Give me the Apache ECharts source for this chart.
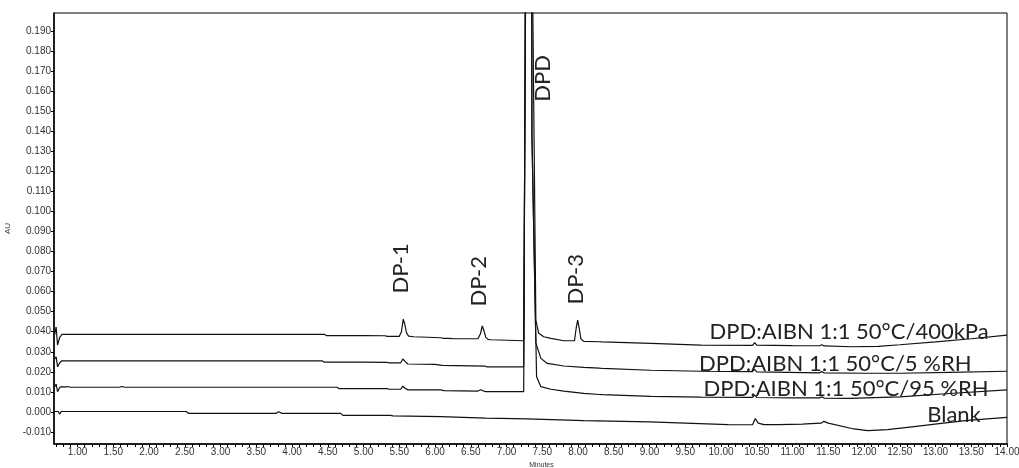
<!DOCTYPE html>
<html><head><meta charset="utf-8">
<script src="https://cdn.jsdelivr.net/npm/echarts@6/dist/echarts.min.js"></script>
<style>html,body{margin:0;padding:0;background:#fff}#c{width:1019px;height:468px}</style>
</head><body><div id="c"></div>
<script>
// ---- data (time in minutes, absorbance in AU) ----
const trace400kPa = [[0.68,0.0385],[0.70,0.0424],[0.72,0.0333],[0.75,0.0372],[0.78,0.0387],[4.45,0.0387],[4.48,0.0381],[4.96,0.0381],[4.98,0.0386],[5.00,0.0381],[5.30,0.0380],[5.33,0.0377],[5.50,0.0377],[5.53,0.0400],[5.555,0.0463],[5.575,0.0440],[5.60,0.0395],[5.63,0.0378],[5.70,0.0375],[6.08,0.0370],[6.12,0.0367],[6.20,0.0367],[6.22,0.0371],[6.24,0.0366],[6.60,0.0365],[6.635,0.0390],[6.66,0.0429],[6.68,0.0410],[6.71,0.0372],[6.74,0.0362],[6.78,0.0360],[6.80,0.0356],[7.24,0.0355],[7.28,0.30],[7.34,0.30],[7.41,0.0458],[7.45,0.0392],[7.52,0.0375],[7.62,0.0367],[7.80,0.0355],[7.95,0.0356],[7.975,0.0420],[7.995,0.0458],[8.015,0.0420],[8.04,0.0365],[8.08,0.0352],[8.30,0.0350],[8.32,0.0354],[8.34,0.0349],[9.02,0.0342],[9.72,0.0333],[10.44,0.0332],[10.47,0.0346],[10.50,0.0333],[11.0,0.0331],[11.38,0.0330],[11.41,0.0335],[11.44,0.0329],[11.82,0.0325],[12.2,0.0327],[12.5,0.0335],[13.0,0.0349],[13.5,0.0365],[14.0,0.0383]];
const trace5RH = [[0.68,0.0265],[0.70,0.0275],[0.72,0.0225],[0.75,0.0245],[0.78,0.0255],[4.42,0.0255],[4.45,0.0248],[5.00,0.0248],[5.33,0.0247],[5.36,0.0245],[5.52,0.0245],[5.55,0.0264],[5.58,0.0252],[5.62,0.0239],[6.00,0.0237],[6.10,0.0232],[6.70,0.0228],[6.73,0.0225],[6.75,0.0229],[6.77,0.0225],[7.24,0.0225],[7.26,0.176],[7.275,0.40],[7.345,0.40],[7.355,0.138],[7.41,0.0343],[7.48,0.0267],[7.57,0.0242],[7.80,0.0229],[8.08,0.0222],[8.30,0.0218],[8.32,0.0224],[8.34,0.0217],[9.02,0.0208],[9.72,0.0203],[10.44,0.0201],[10.47,0.0212],[10.50,0.0200],[11.38,0.0195],[11.41,0.0201],[11.44,0.0195],[12.0,0.0193],[12.5,0.0193],[13.2,0.0197],[14.0,0.0203]];
const trace95RH = [[0.68,0.0125],[0.70,0.0139],[0.72,0.0101],[0.75,0.0122],[0.78,0.0126],[0.82,0.0124],[0.86,0.0127],[0.90,0.0123],[1.58,0.0123],[1.62,0.0127],[1.66,0.0123],[4.63,0.0123],[4.66,0.0116],[4.96,0.0116],[4.98,0.0120],[5.00,0.0116],[5.33,0.0116],[5.36,0.0113],[5.52,0.0113],[5.55,0.0129],[5.58,0.0118],[5.62,0.0110],[6.08,0.0110],[6.12,0.0106],[6.60,0.0104],[6.64,0.0111],[6.68,0.0104],[6.71,0.0101],[6.74,0.0101],[6.75,0.0106],[6.77,0.0101],[7.24,0.0101],[7.26,0.176],[7.275,0.40],[7.345,0.40],[7.355,0.138],[7.42,0.0176],[7.48,0.0126],[7.62,0.0113],[7.80,0.0104],[8.08,0.0093],[8.30,0.0087],[8.32,0.0093],[8.34,0.0086],[9.02,0.0078],[9.72,0.0074],[10.44,0.0073],[10.47,0.0084],[10.50,0.0072],[11.0,0.0070],[11.38,0.0070],[11.41,0.0076],[11.44,0.0069],[11.8,0.0068],[12.5,0.0075],[13.2,0.0092],[14.0,0.0110]];
const traceBlank = [[0.68,0.0002],[0.73,0.0002],[0.75,-0.0012],[0.77,0.0002],[2.52,0.0002],[2.55,-0.0007],[3.78,-0.0007],[3.81,0.0001],[3.86,-0.0007],[4.68,-0.0007],[4.71,-0.0017],[5.38,-0.0017],[5.41,-0.0020],[6.08,-0.0023],[6.71,-0.0031],[7.29,-0.0035],[8.08,-0.0043],[9.0,-0.0050],[9.6,-0.0057],[10.1,-0.0063],[10.44,-0.0064],[10.48,-0.0033],[10.52,-0.0056],[10.6,-0.0063],[10.75,-0.0063],[10.77,-0.0055],[10.80,-0.0063],[11.14,-0.0061],[11.16,-0.0053],[11.19,-0.0060],[11.40,-0.0056],[11.44,-0.0047],[11.50,-0.0056],[11.86,-0.0085],[12.05,-0.0093],[12.33,-0.0088],[12.7,-0.0073],[13.08,-0.0057],[13.45,-0.0042],[14.0,-0.0027]];

const xTickLabels = [1.00,1.50,2.00,2.50,3.00,3.50,4.00,4.50,5.00,5.50,6.00,6.50,7.00,7.50,8.00,8.50,9.00,9.50,10.00,10.50,11.00,11.50,12.00,12.50,13.00,13.50,14.00];
const yTickLabels = [-0.010,0.000,0.010,0.020,0.030,0.040,0.050,0.060,0.070,0.080,0.090,0.100,0.110,0.120,0.130,0.140,0.150,0.160,0.170,0.180,0.190];

// trace names drawn at the right end (text, time, AU)
const traceNames = ['DPD:AIBN 1:1 50°C/400kPa','DPD:AIBN 1:1 50°C/5 %RH','DPD:AIBN 1:1 50°C/95 %RH','Blank'];
const traceNamePos = [[13.75,0.0398],[13.51,0.0240],[13.75,0.0114],[13.64,-0.0015]];
// peak labels (rotated)
const peakNames = ['DP-1','DP-2','DPD','DP-3'];
const peakPos = [[5.52,0.0716],[6.61,0.0652],[7.51,0.1664],[7.97,0.0662]];

// ---- chart ----
const xMinorTicks = [];
for (let i = 7; i <= 140; i++) xMinorTicks.push(i / 10);

const FONT = 'Lato, "Open Sans", sans-serif';
const markData = [];
traceNames.forEach((t, i) => markData.push({
  coord: traceNamePos[i],
  label: {show: true, formatter: t, position: 'left', distance: 0,
          fontFamily: FONT, fontSize: 22, color: '#222'}
}));
peakNames.forEach((t, i) => markData.push({
  coord: peakPos[i],
  label: {show: true, formatter: t, position: 'inside', rotate: 90,
          fontFamily: FONT, fontSize: 22, color: '#222'}
}));

const lineStyle = {color: '#111', width: 1.2};
const mk = (name, data) => ({
  name, type: 'line', data, showSymbol: false, symbol: 'none',
  lineStyle, animation: false, silent: true, clip: true
});
const series = [mk('400kPa', trace400kPa), mk('5RH', trace5RH), mk('95RH', trace95RH), mk('Blank', traceBlank)];
series[0].markPoint = {
  symbol: 'circle', symbolSize: 1, itemStyle: {color: 'rgba(0,0,0,0)'},
  animation: false, silent: true, data: markData
};

const chart = echarts.init(document.getElementById('c'), null, {renderer: 'canvas'});
chart.setOption({
  backgroundColor: '#fff',
  animation: false,
  grid: {left: 54, right: 12, top: 13, bottom: 24, outerBoundsMode: 'none', containLabel: false,
         show: true, borderColor: '#000', borderWidth: 1, backgroundColor: 'transparent'},
  xAxis: {
    type: 'value', min: 0.67, max: 14.0,
    name: 'Minutes', nameLocation: 'middle', nameGap: 15,
    nameTextStyle: {fontSize: 7, color: '#333', fontFamily: 'Liberation Sans, Arial, sans-serif', padding: [0, 0, 0, 22]},
    axisLine: {show: true, onZero: false, lineStyle: {color: '#000', width: 1.5}},
    axisTick: {show: true, length: 3, lineStyle: {color: '#000', width: 1}, customValues: xMinorTicks},
    axisLabel: {customValues: xTickLabels, formatter: v => v.toFixed(2), fontSize: 10, color: '#333', margin: 3,
                fontFamily: 'Liberation Sans, Arial, sans-serif', showMinLabel: true, showMaxLabel: true},
    splitLine: {show: false}
  },
  yAxis: {
    type: 'value', min: -0.016, max: 0.199,
    name: 'AU', nameLocation: 'middle', nameGap: 40,
    nameTextStyle: {fontSize: 8, color: '#333', fontFamily: 'Liberation Sans, Arial, sans-serif'},
    axisLine: {show: true, onZero: false, lineStyle: {color: '#000', width: 1.5}},
    axisTick: {show: true, length: 3, lineStyle: {color: '#000', width: 1}, customValues: yTickLabels},
    axisLabel: {customValues: yTickLabels, formatter: v => v.toFixed(3), fontSize: 10, color: '#333', margin: 3,
                fontFamily: 'Liberation Sans, Arial, sans-serif'},
    splitLine: {show: false}
  },
  series
});
</script></body></html>
